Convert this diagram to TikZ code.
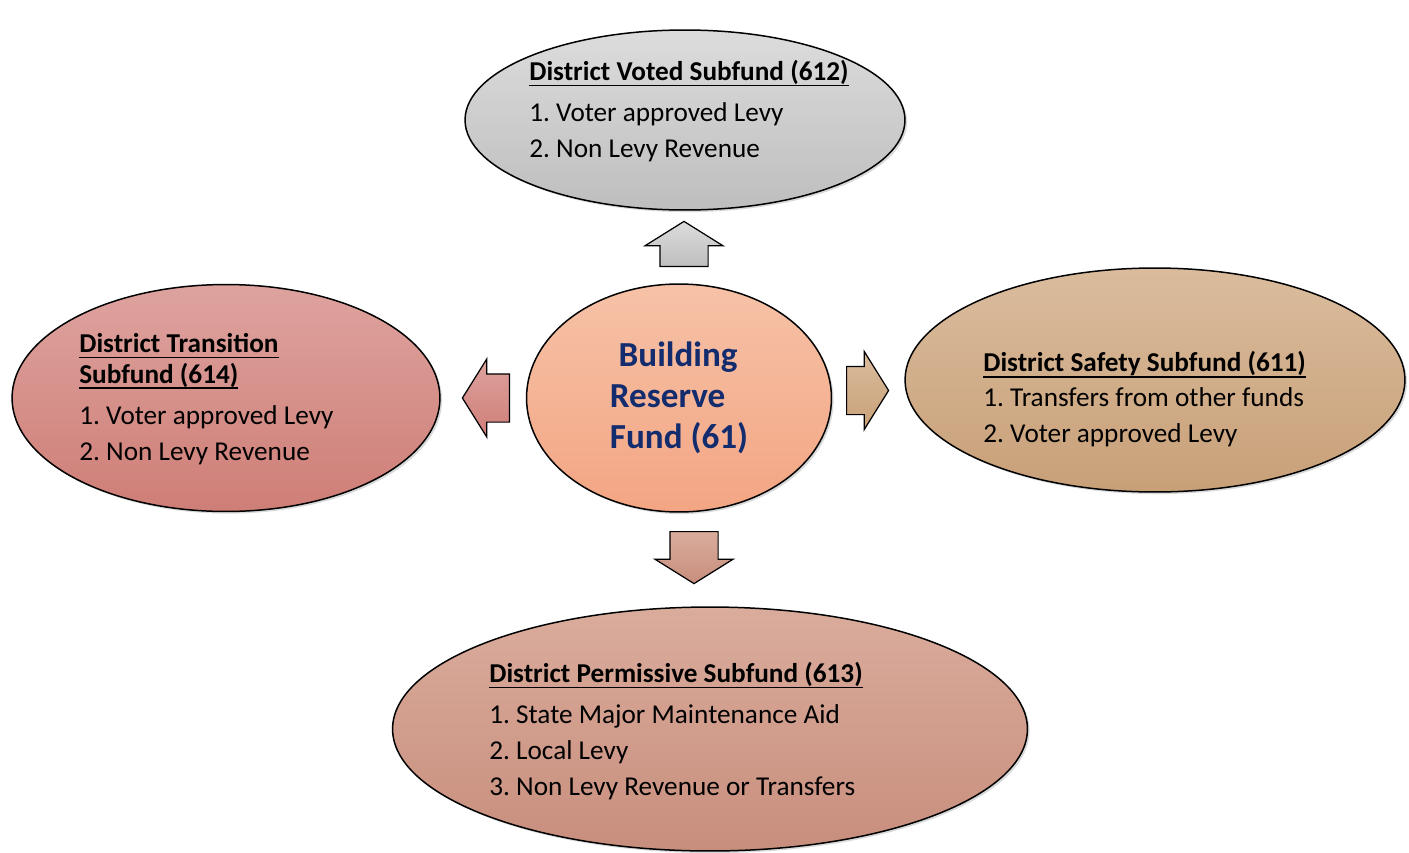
\documentclass[tikz,border=0pt]{standalone}
\usepackage{fontspec}
\setmainfont{Carlito}
\usepackage{xcolor}
\usepackage{tikz}
\usetikzlibrary{shapes,shapes.arrows,positioning,shadows}

\definecolor{navytext}{RGB}{18,44,110}
\definecolor{votedtop}{RGB}{220,220,220}
\definecolor{votedbot}{RGB}{190,190,190}
\definecolor{hubtop}{RGB}{246,194,167}
\definecolor{hubbot}{RGB}{243,165,131}
\definecolor{transtop}{RGB}{222,163,159}
\definecolor{transbot}{RGB}{206,126,118}
\definecolor{safetop}{RGB}{218,188,157}
\definecolor{safebot}{RGB}{200,160,120}
\definecolor{permtop}{RGB}{218,172,156}
\definecolor{permbot}{RGB}{200,142,125}

\newsavebox\headbox
\newcommand{\headline}[1]{\sbox\headbox{\textbf{#1}}\rlap{\usebox\headbox}\rule[-3.4pt]{\wd\headbox}{0.9pt}}
\frenchspacing

\begin{document}
\begin{tikzpicture}[
    x=0.02cm, y=-0.02cm,
    fund/.style={
        ellipse,
        draw=black,
        line width=0.85pt,
        inner sep=0pt,
        drop shadow={shadow xshift=1.2pt, shadow yshift=-1.2pt, opacity=0.3}
    },
    fundtext/.style={
        anchor=west,
        inner sep=0pt,
        align=left,
        font=\fontsize{15.5}{20.5}\selectfont
    },
    hubtext/.style={
        align=left,
        font=\fontsize{20}{23.5}\selectfont\bfseries,
        text=navytext
    },
    flowarrow/.style={
        single arrow,
        draw=black,
        line width=0.7pt,
        inner xsep=0pt,
        inner ysep=0.47cm,
        single arrow head extend=0.3cm,
        single arrow tip angle=116,
        anchor=tail
    }
]

\useasboundingbox (0,0) rectangle (1409,852);

% Central fund
\node[fund, top color=hubtop, bottom color=hubbot,
      minimum width=6.1cm, minimum height=4.56cm, hubtext] (hub) at (679,398)
    {\hspace{5pt}Building\\Reserve\\Fund (61)};

% Subfunds
\node[fund, top color=votedtop, bottom color=votedbot,
      minimum width=8.8cm, minimum height=3.6cm] (voted) at (685,120) {};
\node[fundtext] (votedtext) at (529,111) {
    \headline{District Voted Subfund (612)}\\[3pt]
    1. Voter approved Levy\\
    2. Non Levy Revenue
};

\node[fund, top color=transtop, bottom color=transbot,
      minimum width=8.56cm, minimum height=4.54cm] (transition) at (226,398) {};
\node[fundtext] (transitiontext) at (79,399) {
    \headline{District Transition}\\[-3pt]
    \headline{Subfund (614)}\\[3pt]
    1. Voter approved Levy\\
    2. Non Levy Revenue
};

\node[fund, top color=safetop, bottom color=safebot,
      minimum width=10cm, minimum height=4.48cm] (safety) at (1155,380) {};
\node[fundtext] (safetytext) at (983,399) {
    \headline{District Safety Subfund (611)}\\[-1pt]
    1. Transfers from other funds\\
    2. Voter approved Levy
};

\node[fund, top color=permtop, bottom color=permbot,
      minimum width=12.7cm, minimum height=4.88cm] (permissive) at (710,729) {};
\node[fundtext] (permissivetext) at (489,731) {
    \headline{District Permissive Subfund (613)}\\[3pt]
    1. State Major Maintenance Aid\\
    2. Local Levy\\
    3. Non Levy Revenue or Transfers
};

% Block arrows out of the central fund
\node[flowarrow, rotate=90, minimum height=0.9cm,
      top color=votedtop, bottom color=votedbot] (toVoted) at (684,267) {};
\node[flowarrow, rotate=180, minimum height=0.94cm,
      top color=transtop, bottom color=transbot] (toTransition) at (510,398) {};
\node[flowarrow, minimum height=0.84cm,
      top color=safetop, bottom color=safebot] (toSafety) at (846,390.5) {};
\node[flowarrow, rotate=-90, minimum height=1.04cm,
      top color=permtop, bottom color=permbot] (toPermissive) at (694,531) {};

\end{tikzpicture}
\end{document}
